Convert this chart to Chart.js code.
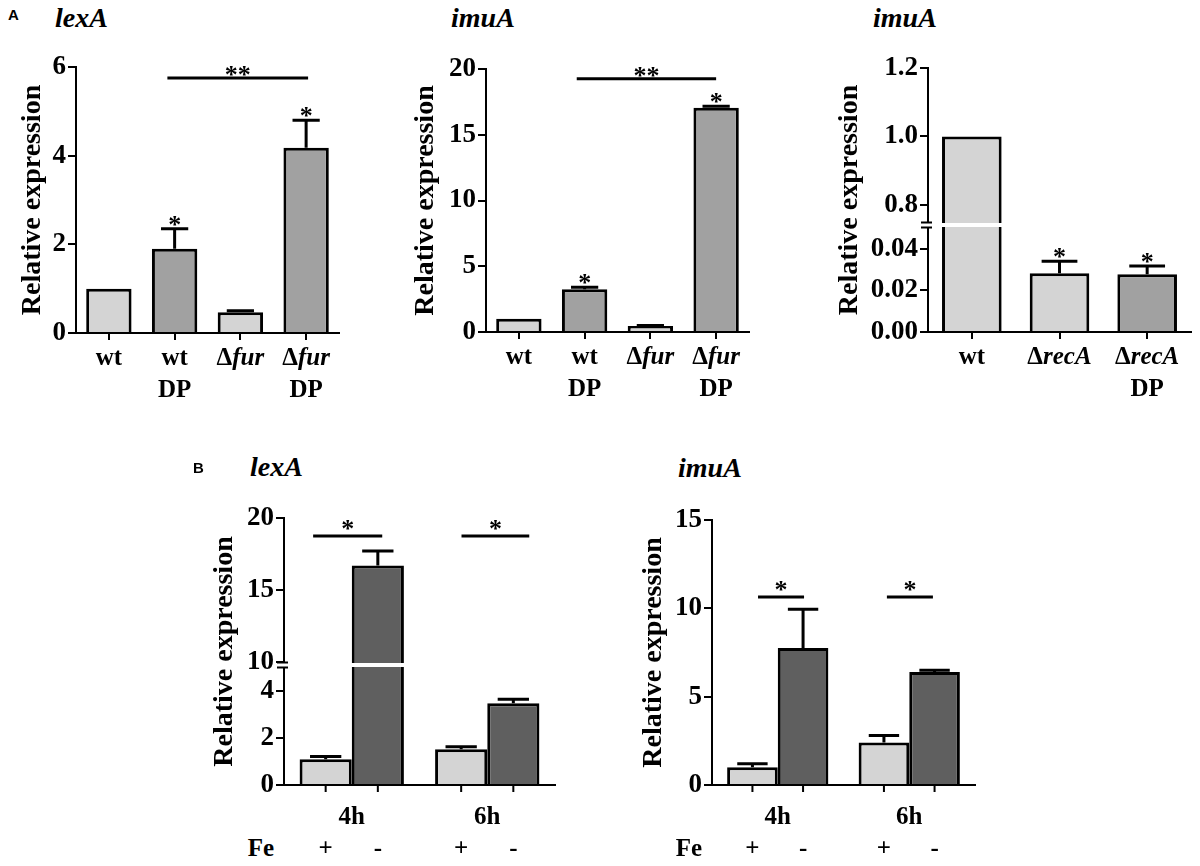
<!DOCTYPE html>
<html>
<head>
<meta charset="utf-8">
<script src="https://cdn.jsdelivr.net/npm/chart.js"></script>
<style>
  body { margin: 0; background: #fff; }
  #fig { position: relative; width: 1200px; height: 866px; overflow: hidden; background: #fff; }
  #fig canvas { position: absolute; }
  .lbl { position: absolute; transform: translateX(-50%); text-align: center; white-space: nowrap;
         font: bold 25px/32px "Liberation Serif", "Times New Roman", serif; color: #000; }
  .star { position: absolute; transform: translateX(-50%); white-space: nowrap;
          font: bold 26px/26px "Liberation Serif", "Times New Roman", serif; color: #000; }
  .gene { position: absolute; white-space: nowrap;
          font: italic bold 28px/28px "Liberation Serif", "Times New Roman", serif; color: #000; }
  .letter { position: absolute; font: bold 15px/15px "Liberation Sans", Arial, sans-serif; color: #000; }
</style>
</head>
<body>
<div id="fig"></div>
<script>
// ---- data: panel A ----
const furCats = [['wt'], ['wt', 'DP'], ['Δfur'], ['Δfur', 'DP']];
const furColors = ['#d4d4d4', '#a1a1a1', '#d4d4d4', '#a1a1a1'];

const lexAValues = [1.0, 1.9, 0.47, 4.18];
const lexAErrors = [0, 0.45, 0.03, 0.62];
const lexAStars = ['', '*', '', '*'];
const lexATicks = [0, 2, 4, 6];
const lexASig = [{ from: 0.89, to: 3.03, at: 5.75, mark: '**' }];

const imuAValues = [1.0, 3.25, 0.45, 17.05];
const imuAErrors = [0, 0.15, 0.05, 0.12];
const imuAStars = ['', '*', '', '*'];
const imuATicks = [0, 5, 10, 15, 20];
const imuASig = [{ from: 0.88, to: 3.0, at: 19.25, mark: '**' }];

const recACats = [['wt'], ['ΔrecA'], ['ΔrecA', 'DP']];
const recAColors = ['#d4d4d4', '#d4d4d4', '#a1a1a1'];
const recAValues = [1.0, 0.0283, 0.0278];
const recAErrors = [0, 0.0057, 0.0039];
const recAStars = ['', '*', '*'];
const recATicks = [0, 0.02, 0.04, 0.8, 1.0, 1.2];

// ---- data: panel B ----
const timeCats = ['4h', '6h'];
const feSigns = ['+', '-'];

const lexBPlus = [1.1, 1.53];
const lexBPlusErr = [0.12, 0.1];
const lexBMinus = [16.7, 3.49];
const lexBMinusErr = [1.0, 0.17];
const lexBTicks = [0, 2, 4, 10, 15, 20];
const lexBSig = [{ from: -0.285, to: 0.225, at: 18.75, mark: '*' }, { from: 0.81, to: 1.31, at: 18.75, mark: '*' }];

const imuBPlus = [1.0, 2.4];
const imuBPlusErr = [0.2, 0.4];
const imuBMinus = [7.75, 6.4];
const imuBMinusErr = [2.2, 0.1];
const imuBTicks = [0, 5, 10, 15];
const imuBSig = [{ from: -0.15, to: 0.2, at: 10.64, mark: '*' }, { from: 0.83, to: 1.18, at: 10.64, mark: '*' }];

const SERIF = '"Liberation Serif", "Times New Roman", serif';
const LIGHT = '#d4d4d4', DARK = '#5f5f5f';
const PAD_T = 20, PAD_R = 6, X_H = 20;
const fig = document.getElementById('fig');

// y scale with a gap: lower part [min, lowMax], upper part [highMin, max]
class BrokenLinearScale extends Chart.LinearScale {
  getPixelForValue(value) {
    const b = this.options.broken;
    const h = this.bottom - this.top;
    const lowH = h * b.lowFrac;
    const upH = h - lowH - b.gap;
    if (value <= b.lowMax) return this.bottom - (value - this.min) / (b.lowMax - this.min) * lowH;
    if (value >= b.highMin) return this.top + upH - (value - b.highMin) / (this.max - b.highMin) * upH;
    return this.bottom - lowH - b.gap / 2;
  }
  getValueForPixel() { return this.min; }
}
BrokenLinearScale.id = 'brokenLinear';
BrokenLinearScale.defaults = {};
Chart.register(BrokenLinearScale);

const errorBars = {
  id: 'errorBars',
  afterDatasetsDraw(chart) {
    const ctx = chart.ctx, y = chart.scales.y;
    chart.data.datasets.forEach((ds, di) => {
      if (!ds.errors) return;
      chart.getDatasetMeta(di).data.forEach((bar, i) => {
        const e = ds.errors[i];
        if (!e) return;
        const top = y.getPixelForValue(ds.data[i] + e);
        const half = bar.width * 0.3;
        ctx.save();
        ctx.strokeStyle = '#000';
        ctx.lineWidth = 3;
        ctx.beginPath();
        ctx.moveTo(bar.x, bar.y);
        ctx.lineTo(bar.x, top);
        ctx.moveTo(bar.x - half, top);
        ctx.lineTo(bar.x + half, top);
        ctx.stroke();
        ctx.restore();
      });
    });
  }
};

const axisBreak = {
  id: 'axisBreak',
  afterDatasetsDraw(chart) {
    const y = chart.scales.y, b = y.options.broken;
    if (!b) return;
    const ctx = chart.ctx, area = chart.chartArea;
    const gapBottom = y.bottom - (y.bottom - y.top) * b.lowFrac;
    const gapTop = gapBottom - b.gap;
    ctx.save();
    ctx.fillStyle = '#fff';
    ctx.fillRect(area.left - 4, gapTop + 1, area.right - area.left + 4, b.gap - 2);
    ctx.strokeStyle = '#000';
    ctx.lineWidth = 2;
    ctx.beginPath();
    [gapTop + 0.5, gapBottom - 0.5].forEach(yy => {
      ctx.moveTo(area.left - 7, yy);
      ctx.lineTo(area.left + 4, yy);
    });
    ctx.stroke();
    ctx.restore();
  }
};

const sigBars = {
  id: 'sigBars',
  afterDatasetsDraw(chart, args, opts) {
    if (!opts.items) return;
    const ctx = chart.ctx, x = chart.scales.x, y = chart.scales.y;
    ctx.save();
    ctx.strokeStyle = '#000';
    ctx.lineWidth = 3;
    opts.items.forEach(s => {
      const py = y.getPixelForValue(s.at);
      ctx.beginPath();
      ctx.moveTo(x.getPixelForValue(s.from), py);
      ctx.lineTo(x.getPixelForValue(s.to), py);
      ctx.stroke();
    });
    ctx.restore();
  }
};

// small tick marks under each bar (grouped panels)
const barTicks = {
  id: 'barTicks',
  afterDraw(chart, args, opts) {
    if (!opts.on) return;
    const ctx = chart.ctx, bottom = chart.chartArea.bottom;
    ctx.save();
    ctx.strokeStyle = '#000';
    ctx.lineWidth = 2;
    ctx.beginPath();
    chart.data.datasets.forEach((ds, di) => {
      chart.getDatasetMeta(di).data.forEach(bar => {
        ctx.moveTo(bar.x, bottom);
        ctx.lineTo(bar.x, bottom + 7);
      });
    });
    ctx.stroke();
    ctx.restore();
  }
};

Chart.register(errorBars, axisBreak, sigBars, barTicks);

function addText(html, x, y, cls) {
  const d = document.createElement('div');
  d.className = cls;
  d.innerHTML = html;
  d.style.left = x + 'px';
  d.style.top = y + 'px';
  fig.appendChild(d);
  return d;
}

const italic = s => s.replace(/^Δ(.+)$/, 'Δ<i>$1</i>');

function panel(p) {
  const w = p.right - p.left, h = p.bottom - p.top;
  const W = p.yW + w + PAD_R, H = PAD_T + h + X_H;
  const cv = document.createElement('canvas');
  cv.width = W;
  cv.height = H;
  const ox = p.left - p.yW, oy = p.top - PAD_T;
  cv.style.left = ox + 'px';
  cv.style.top = oy + 'px';
  fig.appendChild(cv);

  const chart = new Chart(cv, {
    type: 'bar',
    data: { labels: p.labels, datasets: p.datasets },
    options: {
      responsive: false,
      animation: false,
      events: [],
      layout: { padding: { top: PAD_T, right: PAD_R, left: 0, bottom: 0 } },
      plugins: {
        legend: { display: false },
        tooltip: { enabled: false },
        sigBars: { items: p.sig || null },
        barTicks: { on: !!p.grouped }
      },
      scales: {
        x: {
          type: 'category',
          offset: true,
          grid: { display: !p.grouped, offset: false, drawOnChartArea: false, color: '#000', lineWidth: 2, tickLength: 7 },
          border: { color: '#000', width: 2 },
          ticks: { display: false },
          afterFit: s => { s.height = X_H; }
        },
        y: {
          type: p.broken ? 'brokenLinear' : 'linear',
          broken: p.broken,
          min: p.min,
          max: p.max,
          afterBuildTicks: s => { s.ticks = p.ticks.map(v => ({ value: v })); },
          ticks: { callback: p.fmt, color: '#000', padding: 2, font: { family: SERIF, size: 27, weight: 'bold' } },
          grid: { drawOnChartArea: false, color: '#000', lineWidth: 2, tickLength: 8 },
          border: { color: '#000', width: 2 },
          title: { display: true, text: 'Relative expression', color: '#000', padding: 0,
                   font: { family: SERIF, size: 28, weight: 'bold', lineHeight: 1 } },
          afterFit: s => { s.width = p.yW; }
        }
      }
    }
  });

  const x = chart.scales.x, y = chart.scales.y, area = chart.chartArea;
  const bottom = oy + area.bottom;

  if (!p.grouped) {
    p.labels.forEach((lines, i) => {
      addText(lines.map(italic).join('<br>'), ox + x.getPixelForValue(i), bottom + 8, 'lbl');
    });
  } else {
    p.labels.forEach((t, i) => addText(t, ox + x.getPixelForValue(i), bottom + 15, 'lbl'));
    addText('Fe', ox + area.left - 23, bottom + 47, 'lbl');
    p.datasets.forEach((ds, di) => {
      chart.getDatasetMeta(di).data.forEach(bar => addText(ds.label, ox + bar.x, bottom + 47, 'lbl'));
    });
  }

  if (p.stars) {
    const ds = p.datasets[0];
    p.stars.forEach((s, i) => {
      if (!s) return;
      const py = y.getPixelForValue(ds.data[i] + (ds.errors[i] || 0));
      addText(s, ox + x.getPixelForValue(i), oy + py - 17, 'star');
    });
  }
  (p.sig || []).forEach(s => {
    const cx = (x.getPixelForValue(s.from) + x.getPixelForValue(s.to)) / 2;
    addText(s.mark, ox + cx, oy + y.getPixelForValue(s.at) - (p.grouped ? 20 : 16), 'star');
  });
  return chart;
}

const barStyle = { borderColor: '#000', borderWidth: 3, borderSkipped: 'start' };

// Panel A
addText('A', 8, 7, 'letter');
addText('lexA', 55, 4, 'gene');
addText('imuA', 451, 4, 'gene');
addText('imuA', 873, 4, 'gene');

panel({
  left: 76, right: 339, top: 67, bottom: 333, yW: 57,
  labels: furCats, min: 0, max: 6, ticks: lexATicks, fmt: v => v.toFixed(0),
  datasets: [Object.assign({ data: lexAValues, errors: lexAErrors, backgroundColor: furColors,
    barPercentage: 0.69, categoryPercentage: 1 }, barStyle)],
  stars: lexAStars, sig: lexASig
});

panel({
  left: 486, right: 749, top: 69, bottom: 332, yW: 74,
  labels: furCats, min: 0, max: 20, ticks: imuATicks, fmt: v => v.toFixed(0),
  datasets: [Object.assign({ data: imuAValues, errors: imuAErrors, backgroundColor: furColors,
    barPercentage: 0.69, categoryPercentage: 1 }, barStyle)],
  stars: imuAStars, sig: imuASig
});

panel({
  left: 928, right: 1191, top: 68, bottom: 332, yW: 92,
  labels: recACats, min: 0, max: 1.2, ticks: recATicks,
  fmt: v => (v >= 0.5 ? v.toFixed(1) : v.toFixed(2)),
  broken: { lowMax: 0.05, highMin: 0.75, lowFrac: 104 / 264, gap: 6 },
  datasets: [Object.assign({ data: recAValues, errors: recAErrors, backgroundColor: recAColors,
    barPercentage: 0.68, categoryPercentage: 1 }, barStyle)],
  stars: recAStars
});

// Panel B
addText('B', 193, 460, 'letter');
addText('lexA', 250, 453, 'gene');
addText('imuA', 678, 454, 'gene');

panel({
  left: 284, right: 555, top: 518, bottom: 785, yW: 73, grouped: true,
  labels: timeCats, min: 0, max: 20, ticks: lexBTicks, fmt: v => v.toFixed(0),
  broken: { lowMax: 5, highMin: 10, lowFrac: 117 / 267, gap: 6 },
  datasets: [
    Object.assign({ label: feSigns[0], data: lexBPlus, errors: lexBPlusErr, backgroundColor: LIGHT,
      barPercentage: 1, categoryPercentage: 0.77 }, barStyle),
    Object.assign({ label: feSigns[1], data: lexBMinus, errors: lexBMinusErr, backgroundColor: DARK,
      barPercentage: 1, categoryPercentage: 0.77 }, barStyle)
  ],
  sig: lexBSig
});

panel({
  left: 712, right: 975, top: 520, bottom: 785, yW: 72, grouped: true,
  labels: timeCats, min: 0, max: 15, ticks: imuBTicks, fmt: v => v.toFixed(0),
  datasets: [
    Object.assign({ label: feSigns[0], data: imuBPlus, errors: imuBPlusErr, backgroundColor: LIGHT,
      barPercentage: 1, categoryPercentage: 0.77 }, barStyle),
    Object.assign({ label: feSigns[1], data: imuBMinus, errors: imuBMinusErr, backgroundColor: DARK,
      barPercentage: 1, categoryPercentage: 0.77 }, barStyle)
  ],
  sig: imuBSig
});
</script>
</body>
</html>
